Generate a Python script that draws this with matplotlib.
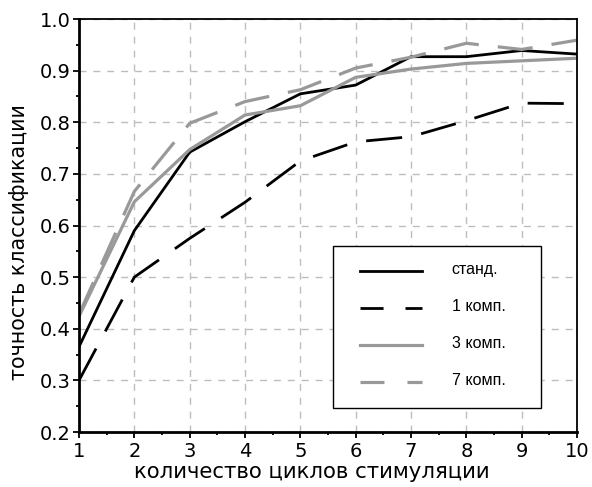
import matplotlib
matplotlib.use("Agg")
import matplotlib.pyplot as plt
from matplotlib.ticker import MultipleLocator
from matplotlib.patches import Rectangle

cycles = [1, 2, 3, 4, 5, 6, 7, 8, 9, 10]
std = [0.365, 0.590, 0.742, 0.801, 0.855, 0.872, 0.927, 0.927, 0.939, 0.932]
comp1 = [0.300, 0.500, 0.575, 0.645, 0.725, 0.762, 0.772, 0.803, 0.837, 0.836]
comp3 = [0.424, 0.646, 0.747, 0.814, 0.832, 0.887, 0.903, 0.914, 0.919, 0.924]
comp7 = [0.428, 0.666, 0.798, 0.840, 0.863, 0.905, 0.926, 0.953, 0.941, 0.959]
labels = ["станд.", "1 комп.", "3 комп.", "7 комп."]

W, H = 592, 487
fig = plt.figure(figsize=(W / 100, H / 100), dpi=100)
ax = fig.add_axes([79 / W, 1 - 432 / H, (577 - 79) / W, (432 - 19) / H])

gray = "#999999"
ax.plot(cycles, std, color="black", lw=2.0, label=labels[0])
ax.plot(cycles, comp1, color="black", lw=2.0, dashes=(13, 7), label=labels[1])
ax.plot(cycles, comp3, color=gray, lw=2.3, label=labels[2])
ax.plot(cycles, comp7, color=gray, lw=2.3, dashes=(11, 6), label=labels[3])

ax.set_xlim(1, 10)
ax.set_ylim(0.2, 1.0)
ax.xaxis.set_major_locator(MultipleLocator(1))
ax.xaxis.set_minor_locator(MultipleLocator(0.5))
ax.yaxis.set_major_locator(MultipleLocator(0.1))
ax.yaxis.set_minor_locator(MultipleLocator(0.05))
ax.grid(True, which="major", color="#bdbdbd", linestyle=(0, (5, 5)), lw=1.0)
ax.tick_params(which="both", direction="out", labelsize=14, width=1.3)
ax.tick_params(which="major", length=4.5)
ax.tick_params(which="minor", length=2.5)
ax.tick_params(axis="y", which="major", pad=1.5)
ax.tick_params(axis="x", which="major", pad=2.5)
for s in ax.spines.values():
    s.set_linewidth(1.3)
ax.spines["left"].set_linewidth(2.0)
ax.spines["bottom"].set_linewidth(2.0)

fig.text(311.5 / W, 1 - 478 / H, "количество циклов стимуляции", fontsize=15.3,
         ha="center", va="baseline")
fig.text(25 / W, 1 - 242.5 / H, "точность классификации", fontsize=14.8,
         ha="center", va="baseline", rotation=90, rotation_mode="anchor")

# legend box
box = Rectangle((333 / W, 1 - 408 / H), (541 - 333) / W, (408 - 246) / H,
                transform=fig.transFigure, facecolor="white",
                edgecolor="black", lw=1.0, zorder=4, clip_on=False)
ax.add_patch(box)
leg = ax.legend(loc="upper left", bbox_to_anchor=(360 / W, 1 - 265 / H),
                bbox_transform=fig.transFigure,
                frameon=False,
                prop={"family": "Liberation Sans", "size": 11.5},
                handlelength=3.9, handletextpad=1.85, labelspacing=1.37,
                borderpad=0, borderaxespad=0)
leg.set_zorder(6)
for t in leg.get_texts():
    t.set_position((0, 3))
hl = leg.get_lines()
hl[1].set_dashes((8.3, 7.9))
hl[3].set_dashes((7.5, 7.2))

fig.savefig("out.png", dpi=100)
